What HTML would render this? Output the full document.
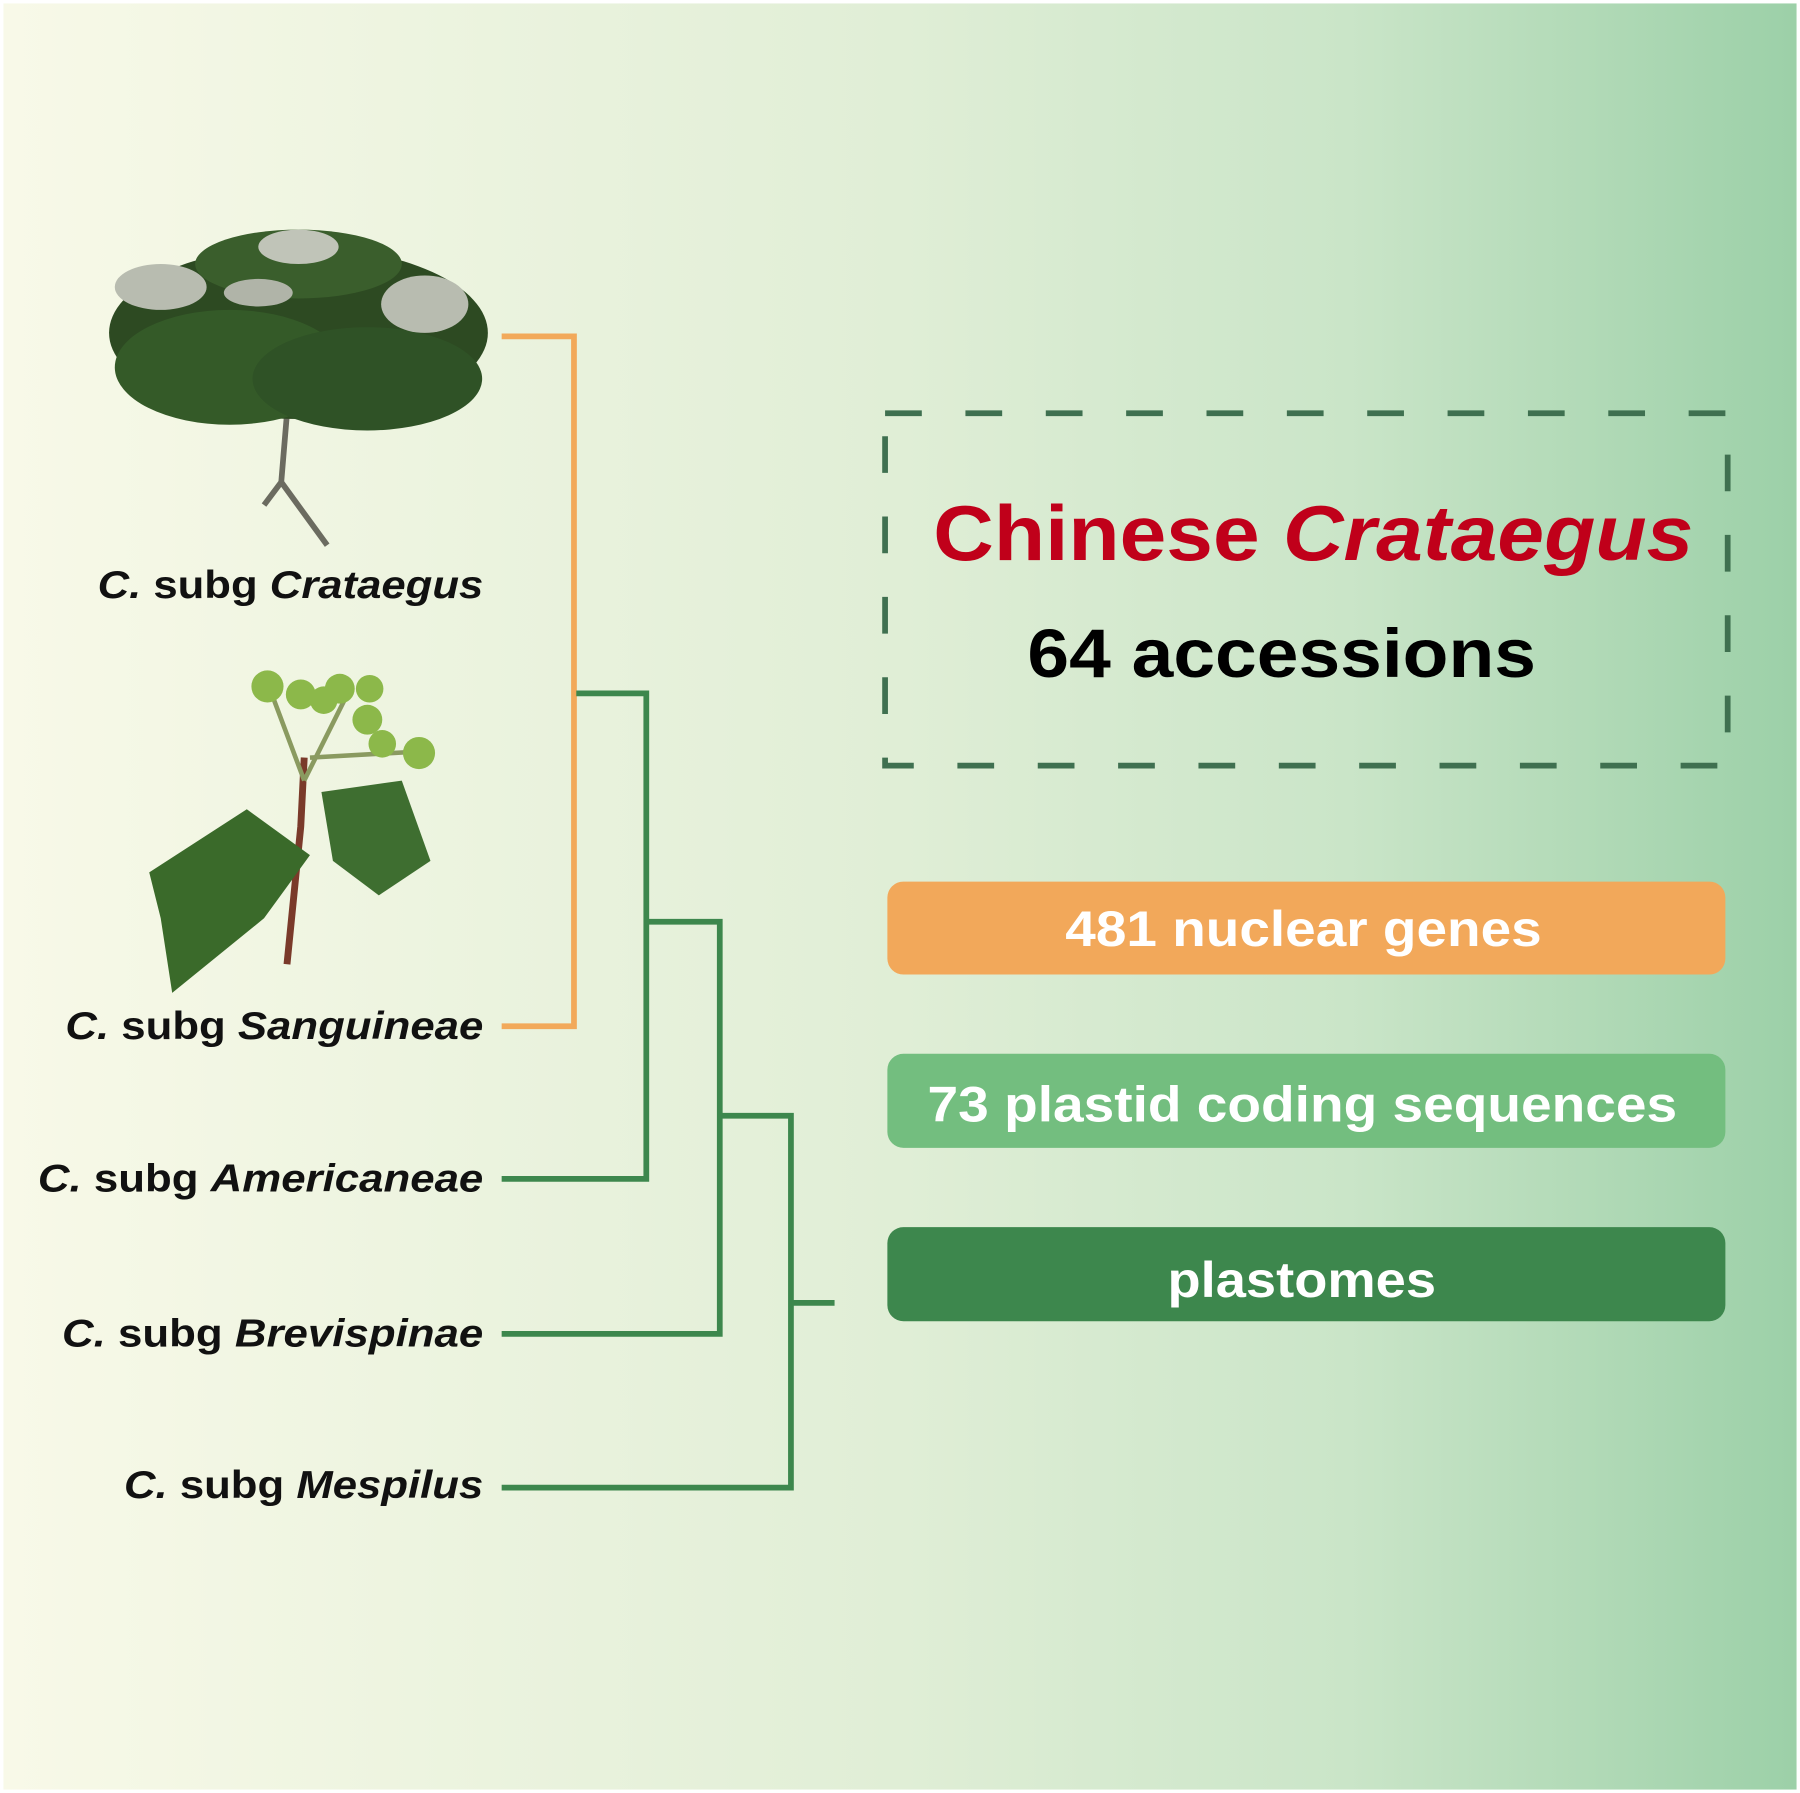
<!DOCTYPE html>
<html><head><style>html,body{margin:0;padding:0;}svg{display:block}</style></head>
<body>
<svg width="1800" height="1793" viewBox="0 0 1568 1562" preserveAspectRatio="none" xmlns="http://www.w3.org/2000/svg">
<defs><linearGradient id="bg" x1="0" x2="1" y1="0" y2="0">
<stop offset="0" stop-color="#f8f9e8"/><stop offset="0.5" stop-color="#e0eed6"/><stop offset="0.75" stop-color="#cae5c8"/><stop offset="1" stop-color="#9cd0a8"/></linearGradient></defs>
<rect width="1568" height="1562" fill="#fff"/>
<rect x="3" y="3" width="1562" height="1556" fill="url(#bg)"/>
<!-- tree -->
<g>
<path d="M250 360 L245 420 L230 440 M245 420 L285 475" stroke="#6b6b60" stroke-width="5" fill="none"/>
<ellipse cx="260" cy="290" rx="165" ry="75" fill="#2d4a22"/>
<ellipse cx="200" cy="320" rx="100" ry="50" fill="#345a28"/>
<ellipse cx="320" cy="330" rx="100" ry="45" fill="#2f5226"/>
<ellipse cx="260" cy="230" rx="90" ry="30" fill="#3a5e2c"/>
<ellipse cx="140" cy="250" rx="40" ry="20" fill="#b8bcb0"/>
<ellipse cx="260" cy="215" rx="35" ry="15" fill="#c0c4b8"/>
<ellipse cx="370" cy="265" rx="38" ry="25" fill="#b8bcb0"/>
<ellipse cx="225" cy="255" rx="30" ry="12" fill="#b0b4a8"/>
</g>
<!-- fruit branch -->
<g>
<path d="M265 660 L262 720 L250 840" stroke="#7a3a2a" stroke-width="6" fill="none"/>
<path d="M265 680 L235 600 M265 680 L300 610 M270 660 L360 655" stroke="#8a9a60" stroke-width="4" fill="none"/>
<path d="M215 705 L270 745 L230 800 L150 865 L140 800 L130 760 Z" fill="#3a6a2a"/>
<path d="M280 690 L350 680 L375 750 L330 780 L290 750 Z" fill="#3e6e30"/>
<circle cx="233" cy="598" r="14" fill="#8cb84a"/><circle cx="262" cy="605" r="13" fill="#8cb84a"/>
<circle cx="296" cy="600" r="13" fill="#8cb84a"/><circle cx="322" cy="600" r="12" fill="#8cb84a"/>
<circle cx="320" cy="627" r="13" fill="#8cb84a"/><circle cx="333" cy="648" r="12" fill="#8cb84a"/>
<circle cx="365" cy="656" r="14" fill="#8cb84a"/><circle cx="282" cy="610" r="12" fill="#8cb84a"/>
</g>
<!-- tree lines -->
<g fill="none" stroke-width="5" stroke-linecap="butt">
<path d="M437 293 H500 V894 H437" stroke="#f2a95a"/>
<path d="M502 604 H563 V1027 H437 M563 803 H627 V1162 H437 M627 972 H689 V1296 H437 M689 1135 H727" stroke="#3d874d"/>
</g>
<g font-family="Liberation Sans, sans-serif" font-weight="bold" font-size="34" fill="#111" lengthAdjust="spacingAndGlyphs">
<text x="85" y="521" textLength="336" lengthAdjust="spacingAndGlyphs"><tspan font-style="italic">C.</tspan> subg <tspan font-style="italic">Crataegus</tspan></text>
<text x="57" y="905" textLength="364" lengthAdjust="spacingAndGlyphs"><tspan font-style="italic">C.</tspan> subg <tspan font-style="italic">Sanguineae</tspan></text>
<text x="33" y="1038" textLength="388" lengthAdjust="spacingAndGlyphs"><tspan font-style="italic">C.</tspan> subg <tspan font-style="italic">Americaneae</tspan></text>
<text x="54" y="1173" textLength="367" lengthAdjust="spacingAndGlyphs"><tspan font-style="italic">C.</tspan> subg <tspan font-style="italic">Brevispinae</tspan></text>
<text x="108" y="1305" textLength="313" lengthAdjust="spacingAndGlyphs"><tspan font-style="italic">C.</tspan> subg <tspan font-style="italic">Mespilus</tspan></text>
</g>
<rect x="771" y="360" width="734" height="307" fill="none" stroke="#3f7050" stroke-width="5" stroke-dasharray="32 38"/>
<g font-family="Liberation Sans, sans-serif" font-weight="bold">
<text x="813" y="488" textLength="662" lengthAdjust="spacingAndGlyphs" font-size="68" fill="#c0001a">Chinese <tspan font-style="italic">Crataegus</tspan></text>
<text x="895" y="590" textLength="443" lengthAdjust="spacingAndGlyphs" font-size="60" fill="#000">64 accessions</text>
</g>
<rect x="773" y="768" width="730" height="81" rx="14" fill="#f2a85a"/>
<rect x="773" y="918" width="730" height="82" rx="14" fill="#73be7f"/>
<rect x="773" y="1069" width="730" height="82" rx="14" fill="#3d874d"/>
<g font-family="Liberation Sans, sans-serif" font-weight="bold" font-size="44" fill="#fff">
<text x="928" y="824" textLength="415" lengthAdjust="spacingAndGlyphs">481 nuclear genes</text>
<text x="808" y="977" textLength="653" lengthAdjust="spacingAndGlyphs">73 plastid coding sequences</text>
<text x="1017" y="1130" textLength="234" lengthAdjust="spacingAndGlyphs">plastomes</text>
</g>
</svg>
</body></html>
